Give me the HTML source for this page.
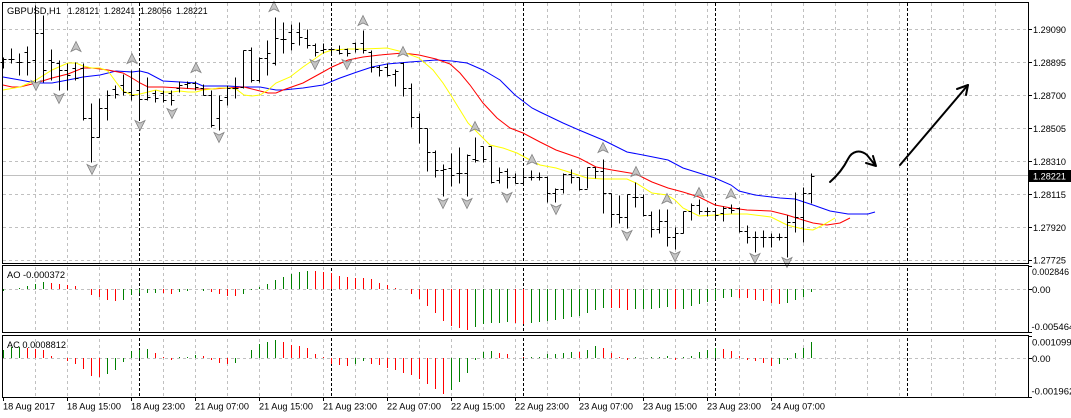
<!DOCTYPE html>
<html><head><meta charset="utf-8">
<style>
html,body{margin:0;padding:0;background:#fff;width:1071px;height:418px;overflow:hidden}
svg{display:block}
text{font-family:"Liberation Sans",Arial,sans-serif;font-size:9.5px;fill:#000}
</style></head>
<body>
<svg width="1071" height="418" viewBox="0 0 1071 418" xmlns="http://www.w3.org/2000/svg">
<defs>
<path id="up" d="M0,-5.5 L5,4.5 L0,2 L-5,4.5 Z" fill="#c4c4c4" stroke="#808080" stroke-width="0.8"/>
<path id="dn" d="M0,5.5 L5,-4.5 L0,-2 L-5,-4.5 Z" fill="#c4c4c4" stroke="#808080" stroke-width="0.8"/>
</defs>
<rect width="1071" height="418" fill="#fff"/>

<path d="M35.5 3V397M67.5 3V397M99.5 3V397M131.5 3V397M163.5 3V397M195.5 3V397M227.5 3V397M259.5 3V397M291.5 3V397M323.5 3V397M355.5 3V397M387.5 3V397M419.5 3V397M451.5 3V397M483.5 3V397M515.5 3V397M547.5 3V397M579.5 3V397M611.5 3V397M643.5 3V397M675.5 3V397M707.5 3V397M739.5 3V397M771.5 3V397M803.5 3V397M835.5 3V397M867.5 3V397M899.5 3V397M931.5 3V397M963.5 3V397M995.5 3V397" stroke="#c0c0c0" stroke-width="1" stroke-dasharray="3 3" fill="none"/>
<path d="M3 29.5H1028M3 62.5H1028M3 95.5H1028M3 128.5H1028M3 161.5H1028M3 194.5H1028M3 227.5H1028M3 260.5H1028M3 289.5H1028M3 358.5H1028" stroke="#c0c0c0" stroke-width="1" stroke-dasharray="3 3" fill="none"/>
<path d="M139.5 3V397M331.5 3V397M523.5 3V397M715.5 3V397M907.5 3V397" stroke="#000" stroke-width="1" stroke-dasharray="3 2" fill="none"/>
<rect x="3" y="264" width="1026" height="1" fill="#fff"/>
<rect x="3" y="333" width="1026" height="2" fill="#fff"/>
<path d="M3 175.5H1028" stroke="#c0c0c0" stroke-width="1"/>

<polyline fill="none" stroke="#0000ff" stroke-width="1" points="3,77 20,80 36,83 52,83 68,80 83,77 100,75 116,71 132,72 140,71 148,73 163,81 180,82 196,83 203,86 228,86 244,87 260,87 276,90 283,90 303,88 323,85 340,78 357,72 372,67 387,64 410,62 436,60 452,61 467,63 483,70 500,80 515,95 532,108 540,112 563,123 579,130 603,140 627,152 643,155 668,160 683,168 699,173 715,178 731,185 739,191 755,195 780,198 795,199 813,205 830,211 848,214 868,214 875,212"/>
<polyline fill="none" stroke="#ff0000" stroke-width="1" points="3,85 12,87 20,87 36,83 52,78 68,74 83,68 92,68 108,70 123,73 132,78 140,83 148,87 163,87 180,88 196,89 212,89 228,88 244,87 260,91 268,93 276,93 283,90 303,83 323,72 332,67 348,60 363,57 380,55 403,53 419,55 436,59 450,64 460,73 470,85 483,103 497,118 510,128 523,133 540,142 556,150 579,158 596,167 612,170 636,174 652,182 668,188 683,192 699,197 715,205 731,208 747,210 771,211 787,215 803,220 813,223 827,225 840,223 850,218"/>
<polyline fill="none" stroke="#ffff00" stroke-width="1" points="3,90 20,87 36,80 52,70 68,63 76,63 83,66 92,68 100,68 108,71 116,82 123,91 132,95 140,94 148,92 156,90 163,92 172,92 180,91 188,92 196,92 203,90 212,89 219,88 228,88 236,89 244,95 252,96 260,95 268,90 276,83 290,77 303,67 316,58 323,53 332,50 348,49 363,49 387,48 403,52 419,58 433,70 443,83 452,97 460,110 468,123 477,132 490,145 503,148 517,153 530,160 540,165 556,168 572,173 587,178 603,179 627,179 636,183 652,193 667,195 675,200 683,208 699,216 715,215 731,214 747,214 771,217 787,225 803,229 813,230 823,225 835,218"/>

<g transform="translate(0.5,0.5)">
<path shape-rendering="crispEdges" stroke="#000" stroke-width="1" fill="none" d="M3 57V68M0 62H3M3 59H6M11 48V63M8 59H11M11 59H14M19 53V75M16 62H19M19 62H22M27 46V75M24 52H27M27 62H30M35 5V88M32 60H35M35 33H38M43 15V82M40 33H43M43 70H46M51 49V80M48 60H51M51 62H54M59 60V90M56 63H59M59 70H62M67 63V90M64 70H67M67 75H70M75 62V80M72 68H75M75 78H78M83 63V120M80 68H83M83 118H86M91 103V162M88 118H91M91 137H94M99 98V137M96 137H99M99 108H102M107 90V120M104 108H107M107 95H110M115 85V98M112 89H115M115 94H118M123 74V95M120 85H123M123 92H126M131 70V100M128 92H131M131 95H134M139 70V118M136 90H139M139 99H142M147 77V100M144 99H147M147 97H150M155 90V102M152 93H155M155 98H158M163 90V102M160 93H163M163 100H166M171 90V105M168 93H171M171 100H174M179 81V92M176 88H179M179 85H182M187 81V88M184 84H187M187 83H190M195 81V90M192 83H195M195 87H198M203 84V95M200 88H203M203 95H206M211 90V127M208 95H211M211 125H214M219 95V130M216 118H219M219 100H222M227 85V105M224 97H227M227 88H230M235 77V98M232 88H235M235 88H238M243 50V88M240 87H243M243 50H246M251 47V82M248 50H251M251 80H254M259 57V82M256 80H259M259 58H262M267 40V75M264 58H267M267 53H270M275 17V65M272 63H275M275 38H278M283 22V53M280 39H283M283 39H286M291 24V50M288 32H291M291 43H294M299 22V45M296 32H299M299 37H302M307 29V48M304 38H307M307 45H310M315 43V56M312 45H315M315 52H318M323 43V53M320 50H323M323 49H326M331 47V53M328 49H331M331 49H334M339 45V54M336 50H339M339 53H342M347 48V56M344 49H347M347 53H350M355 42V52M352 43H355M355 49H358M363 30V53M360 43H363M363 50H366M371 50V72M368 52H371M371 67H374M379 65V76M376 67H379M379 70H382M387 63V76M384 67H387M387 75H390M395 69V86M392 74H395M395 71H398M403 62V96M400 63H403M403 88H406M411 83V127M408 88H411M411 117H414M419 113V143M416 117H419M419 128H422M427 128V171M424 128H427M427 152H430M435 150V177M432 152H435M435 170H438M443 164V196M440 170H443M443 169H446M451 153V186M448 168H451M451 175H454M459 147V183M456 173H459M459 173H462M467 154V196M464 173H467M467 155H470M475 137V162M472 159H475M475 160H478M483 146V162M480 146H483M483 159H486M491 146V183M488 146H491M491 182H494M499 167V183M496 180H499M499 172H502M507 168V188M504 171H507M507 177H510M515 173V183M512 177H515M515 183H518M523 170V183M520 183H523M523 177H526M531 170V180M528 177H531M531 177H534M539 172V180M536 177H539M539 177H542M547 176V202M544 177H547M547 193H550M555 188V202M552 193H555M555 189H558M563 173V193M560 189H563M563 174H566M571 169V183M568 174H571M571 177H574M579 177V190M576 177H579M579 189H582M587 167V188M584 189H587M587 167H590M595 167V178M592 167H595M595 171H598M603 159V213M600 171H603M603 193H606M611 193V227M608 193H611M611 214H614M619 195V223M616 214H619M619 217H622M627 194V228M624 217H627M627 194H630M635 182V207M632 197H635M635 197H638M643 194V216M640 197H643M643 215H646M651 211V237M648 215H651M651 229H654M659 209V233M656 229H659M659 221H662M667 209V246M664 221H667M667 237H670M675 227V249M672 237H675M675 233H678M683 211V233M680 233H683M683 211H686M691 203V220M688 211H691M691 205H694M699 199V214M696 205H699M699 211H702M707 207V216M704 211H707M707 211H710M715 208V220M712 211H715M715 215H718M723 206V221M720 213H723M723 208H726M731 204V213M728 208H731M731 210H734M739 207V232M736 208H739M739 231H742M747 225V243M744 231H747M747 237H750M755 231V252M752 237H755M755 237H758M763 230V247M760 237H763M763 237H766M771 233V247M768 237H771M771 237H774M779 233V240M776 237H779M779 237H782M787 215V257M784 237H787M787 222H790M795 192V232M792 222H795M795 217H798M803 187V242M800 217H803M803 193H806M811 173V203M808 193H811M811 176H814"/>
</g>

<use href="#up" x="76" y="47"/><use href="#up" x="132" y="59"/><use href="#up" x="196" y="68"/><use href="#up" x="274" y="7"/><use href="#up" x="363" y="21"/><use href="#up" x="403" y="52"/><use href="#up" x="475" y="127"/><use href="#up" x="532" y="160"/><use href="#up" x="603" y="148"/><use href="#up" x="636" y="172"/><use href="#up" x="667" y="199"/><use href="#up" x="699" y="193"/><use href="#up" x="731" y="194"/>
<use href="#dn" x="36" y="85"/><use href="#dn" x="59" y="98"/><use href="#dn" x="92" y="169"/><use href="#dn" x="140" y="125"/><use href="#dn" x="172" y="113"/><use href="#dn" x="219" y="137"/><use href="#dn" x="315" y="64"/><use href="#dn" x="347" y="64"/><use href="#dn" x="443" y="203"/><use href="#dn" x="467" y="203"/><use href="#dn" x="507" y="197"/><use href="#dn" x="556" y="209"/><use href="#dn" x="627" y="235"/><use href="#dn" x="675" y="256"/><use href="#dn" x="755" y="258"/><use href="#dn" x="787" y="262"/>

<g fill="none" stroke="#000" stroke-width="2" stroke-linecap="round" stroke-linejoin="round">
<path d="M830 182 C838 175 844 167 848 159 C852 151 860 149 867 155 L875 165"/>
<path d="M873 156 L876 166 L866 163"/>
<path d="M900 165 L968 85"/>
<path d="M957 89 L968 85 L966 95"/>
</g>

<g transform="translate(0.5,0)" stroke-width="1" fill="none" shape-rendering="crispEdges">
<path stroke="#008000" d="M3 289V291M19 289V288M27 289V286M35 289V284M43 289V282M123 289V300M131 289V295M139 289V293M147 289V293M155 289V293M179 289V292M187 289V291M203 289V291M243 289V294M251 289V290M259 289V287M267 289V284M275 289V280M283 289V277M291 289V274M299 289V272M307 289V271M475 289V327M483 289V324M491 289V323M499 289V323M507 289V322M531 289V323M539 289V322M547 289V321M555 289V320M563 289V319M571 289V317M579 289V316M587 289V313M595 289V310M603 289V308M635 289V309M643 289V309M651 289V309M659 289V308M667 289V307M683 289V309M691 289V306M699 289V304M707 289V302M715 289V300M723 289V298M731 289V297M787 289V303M795 289V300M803 289V297M811 289V292"/>
<path stroke="#ff0000" d="M51 289V283M59 289V284M67 289V285M75 289V286M91 289V295M99 289V297M107 289V300M115 289V301M163 289V293M171 289V294M211 289V292M219 289V294M227 289V296M235 289V296M315 289V271M323 289V272M331 289V273M339 289V276M347 289V277M355 289V278M363 289V278M371 289V279M379 289V283M387 289V285M395 289V288M411 289V294M419 289V299M427 289V306M435 289V313M443 289V321M451 289V326M459 289V328M467 289V330M515 289V323M523 289V324M611 289V308M619 289V308M627 289V310M675 289V309M739 289V298M747 289V298M755 289V300M763 289V301M771 289V303M779 289V304"/>
</g>

<g transform="translate(0.5,0)" stroke-width="1" fill="none" shape-rendering="crispEdges">
<path stroke="#008000" d="M3 358V350M11 358V347M19 358V347M107 358V374M115 358V370M123 358V362M131 358V351M139 358V350M147 358V349M179 358V357M187 358V357M195 358V355M235 358V363M251 358V350M259 358V344M267 358V342M275 358V340M355 358V364M363 358V361M451 358V390M459 358V382M467 358V373M475 358V360M483 358V352M491 358V351M531 358V357M539 358V357M547 358V354M555 358V354M563 358V353M571 358V352M587 358V350M595 358V346M635 358V357M651 358V357M659 358V357M667 358V356M683 358V357M691 358V356M699 358V352M707 358V350M715 358V348M779 358V364M787 358V360M795 358V353M803 358V348M811 358V342"/>
<path stroke="#ff0000" d="M27 358V348M35 358V349M43 358V350M51 358V356M67 358V361M75 358V364M83 358V369M91 358V376M99 358V377M155 358V353M163 358V357M171 358V360M203 358V356M211 358V360M219 358V363M227 358V364M283 358V342M291 358V345M299 358V346M307 358V348M315 358V354M323 358V357M331 358V364M339 358V365M347 358V366M371 358V364M379 358V365M387 358V368M395 358V370M403 358V373M411 358V375M419 358V379M427 358V384M435 358V389M443 358V394M499 358V353M507 358V354M523 358V357M579 358V352M603 358V348M611 358V353M619 358V357M627 358V360M675 358V360M723 358V349M731 358V351M739 358V356M747 358V360M755 358V361M763 358V363M771 358V366"/>
</g>

<g fill="none" stroke="#000" stroke-width="1" shape-rendering="crispEdges">
<rect x="2.5" y="2.5" width="1026" height="261"/>
<rect x="2.5" y="265.5" width="1026" height="67"/>
<rect x="2.5" y="335.5" width="1026" height="62"/>
</g>

<path d="M1028 29.5H1032M1028 62.5H1032M1028 95.5H1032M1028 128.5H1032M1028 161.5H1032M1028 194.5H1032M1028 227.5H1032M1028 260.5H1032M1028 266.5H1032M1028 289.5H1032M1028 332.5H1032M1028 336.5H1032M1028 358.5H1032M1028 397.5H1032M3.5 397V401M67.5 397V401M131.5 397V401M195.5 397V401M259.5 397V401M323.5 397V401M387.5 397V401M451.5 397V401M515.5 397V401M579.5 397V401M643.5 397V401M707.5 397V401M771.5 397V401" stroke="#000" stroke-width="1" shape-rendering="crispEdges"/>

<text x="7" y="14" textLength="54" lengthAdjust="spacingAndGlyphs">GBPUSD,H1</text>
<text x="67.7" y="14" textLength="31.6" lengthAdjust="spacingAndGlyphs">1.28121</text>
<text x="103.7" y="14" textLength="31.6" lengthAdjust="spacingAndGlyphs">1.28241</text>
<text x="140" y="14" textLength="31.6" lengthAdjust="spacingAndGlyphs">1.28056</text>
<text x="176" y="14" textLength="31.6" lengthAdjust="spacingAndGlyphs">1.28221</text>

<text x="7" y="278" textLength="58" lengthAdjust="spacingAndGlyphs">AO -0.000372</text>
<text x="7" y="348" textLength="59" lengthAdjust="spacingAndGlyphs">AC 0.0008812</text>

<text x="1033" y="33" textLength="33" lengthAdjust="spacingAndGlyphs">1.29090</text>
<text x="1033" y="66" textLength="33" lengthAdjust="spacingAndGlyphs">1.28895</text>
<text x="1033" y="99" textLength="33" lengthAdjust="spacingAndGlyphs">1.28700</text>
<text x="1033" y="132" textLength="33" lengthAdjust="spacingAndGlyphs">1.28505</text>
<text x="1033" y="165" textLength="33" lengthAdjust="spacingAndGlyphs">1.28310</text>
<text x="1033" y="198" textLength="33" lengthAdjust="spacingAndGlyphs">1.28115</text>
<text x="1033" y="231" textLength="33" lengthAdjust="spacingAndGlyphs">1.27920</text>
<text x="1033" y="263.5" textLength="33" lengthAdjust="spacingAndGlyphs">1.27725</text>
<rect x="1029" y="170" width="42" height="12" fill="#000"/>
<text x="1033" y="179.5" textLength="33" lengthAdjust="spacingAndGlyphs" style="fill:#fff">1.28221</text>

<text x="1032" y="275" textLength="37" lengthAdjust="spacingAndGlyphs">0.002846</text>
<text x="1032" y="293">0.00</text>
<text x="1031.5" y="330">-0.005464</text>
<text x="1032" y="345.5">0.0010994</text>
<text x="1032" y="362">0.00</text>
<text x="1031.5" y="394.5">-0.0019624</text>

<text x="3" y="409.5" textLength="52" lengthAdjust="spacingAndGlyphs">18 Aug 2017</text>
<text x="67" y="409.5" textLength="54" lengthAdjust="spacingAndGlyphs">18 Aug 15:00</text>
<text x="131" y="409.5" textLength="54" lengthAdjust="spacingAndGlyphs">18 Aug 23:00</text>
<text x="195" y="409.5" textLength="54" lengthAdjust="spacingAndGlyphs">21 Aug 07:00</text>
<text x="259" y="409.5" textLength="54" lengthAdjust="spacingAndGlyphs">21 Aug 15:00</text>
<text x="323" y="409.5" textLength="54" lengthAdjust="spacingAndGlyphs">21 Aug 23:00</text>
<text x="387" y="409.5" textLength="54" lengthAdjust="spacingAndGlyphs">22 Aug 07:00</text>
<text x="451" y="409.5" textLength="54" lengthAdjust="spacingAndGlyphs">22 Aug 15:00</text>
<text x="515" y="409.5" textLength="54" lengthAdjust="spacingAndGlyphs">22 Aug 23:00</text>
<text x="579" y="409.5" textLength="54" lengthAdjust="spacingAndGlyphs">23 Aug 07:00</text>
<text x="643" y="409.5" textLength="54" lengthAdjust="spacingAndGlyphs">23 Aug 15:00</text>
<text x="707" y="409.5" textLength="54" lengthAdjust="spacingAndGlyphs">23 Aug 23:00</text>
<text x="771" y="409.5" textLength="54" lengthAdjust="spacingAndGlyphs">24 Aug 07:00</text>
</svg>
</body></html>
